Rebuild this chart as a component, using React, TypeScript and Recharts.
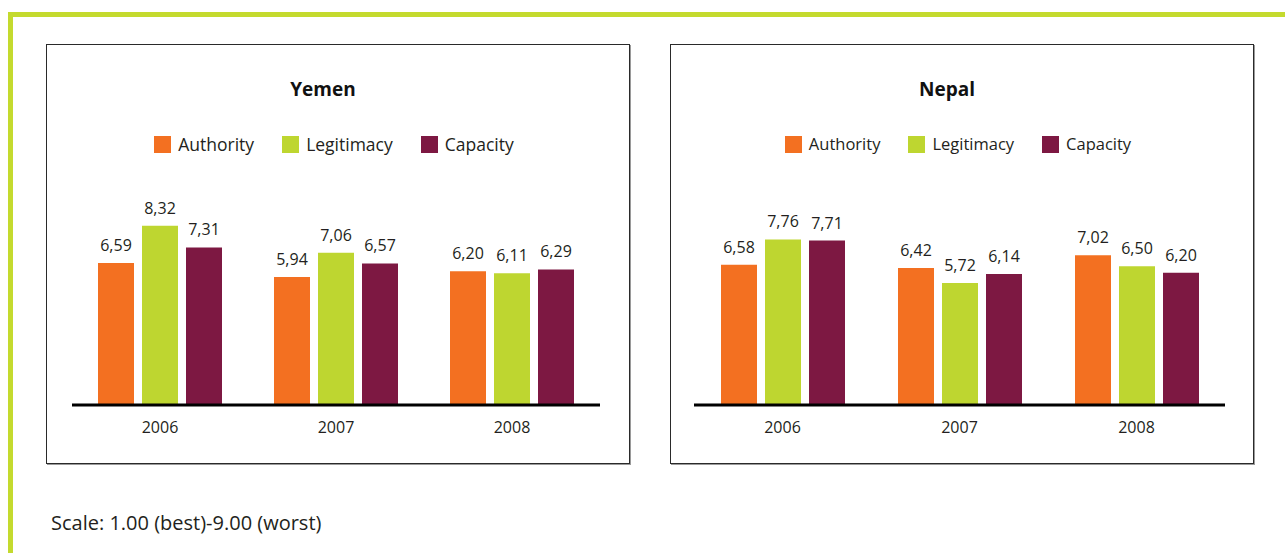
import React from 'react'
import { BarChart, Bar, XAxis, YAxis, LabelList } from 'recharts'

const years = ['2006', '2007', '2008']
const seriesNames = ['Authority', 'Legitimacy', 'Capacity']
const seriesKeys = ['authority', 'legitimacy', 'capacity']
const seriesColors = ['#F37021', '#BED630', '#7D1842']

const yemenAuthority = [6.59, 5.94, 6.2]
const yemenLegitimacy = [8.32, 7.06, 6.11]
const yemenCapacity = [7.31, 6.57, 6.29]

const nepalAuthority = [6.58, 6.42, 7.02]
const nepalLegitimacy = [7.76, 5.72, 6.5]
const nepalCapacity = [7.71, 6.14, 6.2]

const FONT = "'Open Sans', 'Noto Sans', sans-serif"
const TEXT = '#231f20'

function buildRows(a: number[], l: number[], c: number[]) {
    return years.map((year, i) => ({ year, authority: a[i], legitimacy: l[i], capacity: c[i] }))
}

const fmt = (v: any) => Number(v).toFixed(2).replace('.', ',')

interface PanelProps {
    title: string
    rows: Array<Record<string, any>>
    left: number
    legendSize: number
    margin: { top: number; left: number; right: number; bottom: number }
}

function Panel({ title, rows, left, legendSize, margin }: PanelProps) {
    return (
        <div
            style={{
                position: 'absolute',
                left,
                top: 44,
                width: 584,
                height: 420,
                boxSizing: 'border-box',
                border: '1px solid #2a2a2a',
                boxShadow: '1px 1px 0 #9a9a9a',
                background: '#fff'
            }}
        >
            <div
                style={{
                    position: 'absolute',
                    left: 0,
                    width: 552,
                    top: 32,
                    textAlign: 'center',
                    fontFamily: FONT,
                    fontWeight: 700,
                    fontSize: 19,
                    lineHeight: '24px',
                    color: '#111'
                }}
            >
                {title}
            </div>
            {/* legend */}
            <div
                style={{
                    position: 'absolute',
                    left: 0,
                    width: 574,
                    top: 88,
                    display: 'flex',
                    justifyContent: 'center',
                    gap: 28,
                    fontFamily: FONT,
                    fontSize: legendSize,
                    lineHeight: '22px',
                    color: TEXT
                }}
            >
                {seriesNames.map((name, i) => (
                    <div key={name} style={{ display: 'flex', alignItems: 'center' }}>
                        <div style={{ width: 17, height: 17, background: seriesColors[i], marginRight: 7 }} />
                        <span>{name}</span>
                    </div>
                ))}
            </div>
            <BarChart width={582} height={418} data={rows} margin={margin} barSize={36} barGap={8}>
                <YAxis hide domain={[0, 9]} />
                <XAxis
                    dataKey="year"
                    height={58}
                    axisLine={{ stroke: '#000', strokeWidth: 3 }}
                    tickLine={false}
                    tickMargin={11}
                    tick={{ fill: TEXT, fontSize: 16, fontFamily: FONT }}
                />
                {seriesKeys.map((key, i) => (
                    <Bar key={key} dataKey={key} name={seriesNames[i]} fill={seriesColors[i]} isAnimationActive={false}>
                        <LabelList
                            dataKey={key}
                            position="top"
                            offset={12}
                            formatter={fmt}
                            style={{ fill: TEXT, fontSize: 16, fontFamily: FONT }}
                        />
                    </Bar>
                ))}
            </BarChart>
        </div>
    )
}

export default function App() {
    const yemen = buildRows(yemenAuthority, yemenLegitimacy, yemenCapacity)
    const nepal = buildRows(nepalAuthority, nepalLegitimacy, nepalCapacity)
    return (
        <div style={{ position: 'absolute', left: 0, top: 0, width: 1285, height: 553, background: '#fff', overflow: 'hidden' }}>
            <div
                style={{
                    position: 'absolute',
                    left: 8,
                    top: 12,
                    width: 1277,
                    height: 541,
                    boxSizing: 'border-box',
                    borderTop: '5px solid #C4DA2E',
                    borderLeft: '5px solid #C4DA2E'
                }}
            />
            <Panel title="Yemen" rows={yemen} left={46} legendSize={17.5} margin={{ top: 166, left: 25, right: 29, bottom: 0 }} />
            <Panel title="Nepal" rows={nepal} left={670} legendSize={16.5} margin={{ top: 168, left: 23, right: 28, bottom: 0 }} />
            <div
                style={{
                    position: 'absolute',
                    left: 51,
                    top: 510,
                    fontFamily: FONT,
                    fontSize: 20,
                    lineHeight: '26px',
                    color: TEXT
                }}
            >
                Scale: 1.00 (best)-9.00 (worst)
            </div>
        </div>
    )
}
